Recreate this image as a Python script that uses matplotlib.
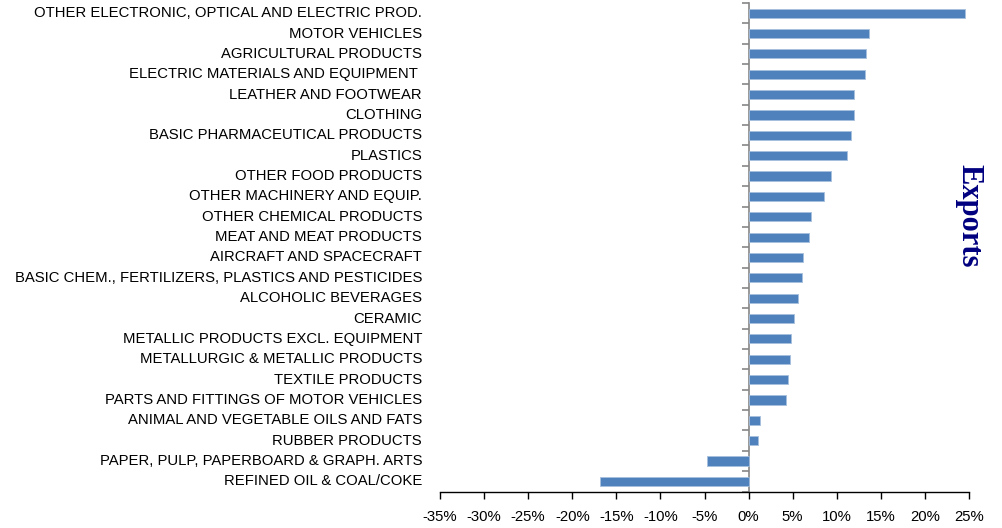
import numpy as np
import matplotlib.pyplot as plt
from matplotlib.ticker import FuncFormatter
import matplotlib.transforms as mtransforms

categories = [
    "OTHER ELECTRONIC, OPTICAL AND ELECTRIC PROD.",
    "MOTOR VEHICLES",
    "AGRICULTURAL PRODUCTS",
    "ELECTRIC MATERIALS AND EQUIPMENT ",
    "LEATHER AND FOOTWEAR",
    "CLOTHING",
    "BASIC PHARMACEUTICAL PRODUCTS",
    "PLASTICS",
    "OTHER FOOD PRODUCTS",
    "OTHER MACHINERY AND EQUIP.",
    "OTHER CHEMICAL PRODUCTS",
    "MEAT AND MEAT PRODUCTS",
    "AIRCRAFT AND SPACECRAFT",
    "BASIC CHEM., FERTILIZERS, PLASTICS AND PESTICIDES",
    "ALCOHOLIC BEVERAGES",
    "CERAMIC",
    "METALLIC PRODUCTS EXCL. EQUIPMENT",
    "METALLURGIC & METALLIC PRODUCTS",
    "TEXTILE PRODUCTS",
    "PARTS AND FITTINGS OF MOTOR VEHICLES",
    "ANIMAL AND VEGETABLE OILS AND FATS",
    "RUBBER PRODUCTS",
    "PAPER, PULP, PAPERBOARD & GRAPH. ARTS",
    "REFINED OIL & COAL/COKE",
]
values = [24.6, 13.7, 13.3, 13.25, 12.0, 11.95, 11.6, 11.2, 9.4, 8.5, 7.05, 6.9,
          6.15, 6.1, 5.6, 5.15, 4.85, 4.7, 4.5, 4.3, 1.35, 1.05, -4.7, -16.9]
xticks = list(range(-35, 30, 5))

plt.rcParams['font.family'] = ['Liberation Sans', 'DejaVu Sans']

fig = plt.figure(figsize=(10.03, 5.28), dpi=100)
ax = fig.add_axes([0.4387, 0.0691, 0.5274, 0.9252])

y = np.arange(len(categories))
ax.barh(y, values, height=0.45, color='#4F81BD', edgecolor='#A7BFDE', linewidth=0.6, zorder=3)

ax.set_xlim(-35, 25)
ax.set_ylim(len(categories) - 0.5, -0.5)

ax.set_xticks(xticks)
ax.xaxis.set_major_formatter(FuncFormatter(lambda v, p: f"{int(v)}%"))
ax.tick_params(axis='x', direction='out', length=5, width=1, color='#000000',
               labelsize=10.7, pad=8)

ax.spines['left'].set_position(('data', 0))
ax.spines['left'].set_color('#868686')
ax.spines['left'].set_linewidth(1.2)
ax.spines['right'].set_visible(False)
ax.spines['top'].set_visible(False)
ax.spines['bottom'].set_color('#000000')
ax.spines['bottom'].set_linewidth(1)

ax.set_yticks(np.arange(-0.5, len(categories), 1))
ax.set_yticklabels([])
ax.tick_params(axis='y', direction='out', length=5, width=1.2, color='#868686')

trans = mtransforms.blended_transform_factory(ax.transAxes, ax.transData)
for i, name in enumerate(categories):
    ax.text(-0.034, i, name, transform=trans, ha='right', va='center', fontsize=10.7)

fig.text(0.966, 0.591, "Exports", rotation=270, ha='center', va='center',
         fontsize=22, fontweight='bold', color='#000080',
         family=['Liberation Serif', 'DejaVu Serif'])

fig.savefig("out.png", dpi=100)
